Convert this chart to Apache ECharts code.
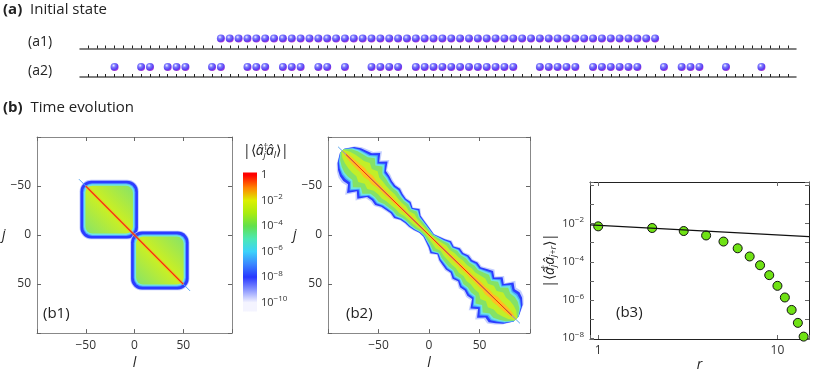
<!DOCTYPE html>
<html>
<head>
<meta charset="utf-8">
<title>Initial state and time evolution</title>
<script src="https://cdn.jsdelivr.net/npm/echarts@6.0.0/dist/echarts.min.js"></script>
<style>
  html, body { margin: 0; padding: 0; background: #fff; }
  #chart { width: 825px; height: 375px; }
</style>
</head>
<body>
<div id="chart"></div>
<script>
// (a) lattice sites and the occupied sites of the two initial states
const sites = Array.from({ length: 80 }, (_, i) => i)
const a1Sites = [15, 16, 17, 18, 19, 20, 21, 22, 23, 24, 25, 26, 27, 28, 29, 30, 31, 32, 33, 34,
  35, 36, 37, 38, 39, 40, 41, 42, 43, 44, 45, 46, 47, 48, 49, 50, 51, 52, 53, 54,
  55, 56, 57, 58, 59, 60, 61, 62, 63, 64]
const a2Sites = [3, 6, 7, 9, 10, 11, 14, 15, 18, 19, 20, 22, 23, 24, 26, 27, 29, 32, 33, 34,
  35, 37, 38, 39, 40, 41, 42, 43, 44, 45, 46, 47, 48, 51, 52, 53, 54, 55, 57, 58,
  59, 60, 61, 62, 65, 67, 68, 69, 72, 76]

// (b1) two correlated blocks [start, end] on the diagonal
const b1Blocks = [[-55.5, 3.5], [-3.5, 55.5]]
const b1Diag = [-57, 57]
const b1Red = [-50, 50]

// (b2) band along the diagonal: position t, half width above / below
const b2T = [-86, -82, -78, -74, -70, -66, -62, -58, -54, -50, -46, -42, -38, -34, -30, -26, -22, -18, -14, -10, -6, -2,
  2, 6, 10, 14, 18, 22, 26, 30, 34, 38, 42, 46, 50, 54, 58, 62, 66, 70, 74, 78, 82, 86]
const b2Up = [3, 11, 15, 17, 19, 25, 18, 24, 16, 15, 13, 12, 13, 11, 10, 11, 8, 12, 8, 7, 6, 5,
  4, 6, 8, 11, 9, 12, 11, 13, 12, 14, 13, 16, 19, 15, 21, 17, 25, 21, 22, 20, 15, 4]
const b2Low = [3, 12, 17, 20, 21, 20, 27, 19, 24, 16, 15, 16, 13, 12, 11, 12, 9, 8, 8, 7, 5, 5,
  7, 9, 12, 8, 11, 12, 13, 12, 15, 13, 16, 15, 17, 16, 24, 19, 26, 20, 21, 17, 12, 3]
const b2Diag = [-90, 90]
const b2Red = [-82, 82]

// colour bar (exponent of |<a+ a>|)
const cbarLevels = [0, -1, -2, -3, -4, -5, -6, -7, -8, -9, -10]
const cbarColors = ['#ff0000', '#ff8400', '#dcf000', '#a8ec10', '#62e04c', '#4ce8b4', '#3cd2fa',
  '#3a86ff', '#2838ff', '#8a96ff', '#f4f4ff']
const cbarTicks = [0, -2, -4, -6, -8, -10]
const cbarRange = [-10.7, 0.2]

// (b3) correlation against distance r, and the power law guide
const b3R = [1, 2, 3, 4, 5, 6, 7, 8, 9, 10, 11, 12, 13, 14]
const b3C = [7.2e-3, 5.9e-3, 4.1e-3, 2.4e-3, 1.15e-3, 5.1e-4, 1.9e-4, 6.6e-5, 2.0e-5, 5.5e-6,
  1.35e-6, 3.0e-7, 6.3e-8, 1.2e-8]
const fitR = [0.9, 15]
const fitC = [8.6e-3, 2.1e-3]

const F = '"Open Sans", "Noto Sans", sans-serif'
const MINUS = '\u2212'

const chart = echarts.init(document.getElementById('chart'))

const ball = {
  type: 'radial', x: 0.38, y: 0.32, r: 0.75,
  colorStops: [
    { offset: 0, color: '#f4f0ff' },
    { offset: 0.3, color: '#7c7cff' },
    { offset: 0.7, color: '#5a3cf0' },
    { offset: 1, color: '#c83cd0' }
  ]
}

const supRich = {
  sup: { fontSize: 8, padding: [0, 0, 7, 0], fontFamily: F, color: '#333' }
}
const mathRich = {
  i: { fontStyle: 'italic', fontSize: 14, fontFamily: F, color: '#222' },
  d: { fontSize: 9, padding: [0, 0, 9, 0], fontFamily: F, color: '#222', width: 0.01 },
  s: { fontStyle: 'italic', fontSize: 9, padding: [7, 0, 0, 0], fontFamily: F, color: '#222' }
}

const latLabel = v => (Math.abs(v) === 100 ? '' : String(v).replace('-', MINUS))
const expOf = v => Math.round(Math.log10(v))
const isPow = v => Math.abs(Math.log10(v) - expOf(v)) < 1e-6

// frame axis helper (lines on all four sides, ticks inside)
function frame(grid, pos, extra) {
  return Object.assign({
    gridIndex: grid, position: pos, type: 'value',
    axisLine: { show: true, onZero: false, lineStyle: { color: '#888', width: 1 } },
    axisTick: { show: true, inside: true, length: 4, lineStyle: { color: '#666' } },
    axisLabel: { show: false },
    splitLine: { show: false }
  }, extra)
}
const tickLabel = { show: true, formatter: latLabel, fontSize: 12, color: '#333', fontFamily: F, margin: 6 }
const nameStyle = { fontStyle: 'italic', fontSize: 14, color: '#222', fontFamily: F }

function lattice(grid) {
  return {
    gridIndex: grid, type: 'value', min: -0.9, max: 79.9,
    axisLine: { show: true, onZero: false, lineStyle: { color: '#555', width: 1.5 } },
    axisTick: { show: true, inside: true, length: 3, customValues: sites, lineStyle: { color: '#222' } },
    axisLabel: { show: false },
    splitLine: { show: false }
  }
}
const hiddenY = grid => ({ gridIndex: grid, type: 'value', min: 0, max: 2, show: false })

function blockItem(params, api) {
  const lo = api.value(0), hi = api.value(1)
  const a = api.coord([lo, lo]), b = api.coord([hi, hi])
  const x = a[0], y = a[1], w = b[0] - a[0], h = b[1] - a[1]
  const rr = (ins, r, fill) => ({
    type: 'rect',
    shape: { x: x + ins, y: y + ins, width: w - 2 * ins, height: h - 2 * ins, r: r },
    style: { fill: fill }
  })
  return {
    type: 'group',
    children: [
      rr(-0.8, 11.5, '#b9c4ff'),
      rr(0, 11, '#2c3cff'),
      rr(2.6, 9, '#4f9dff'),
      rr(3.6, 8, '#6fe6e6'),
      rr(5, 7, {
        type: 'linear', x: 1, y: 0, x2: 0, y2: 1,
        colorStops: [
          { offset: 0, color: '#86e36a' },
          { offset: 0.5, color: '#cdf020' },
          { offset: 1, color: '#86e36a' }
        ]
      })
    ]
  }
}

const bandLayers = [
  [1.1, 'rgba(170,185,255,0.7)'],
  [1.0, '#2c3cff'],
  [0.87, '#48a6ff'],
  [0.8, '#70e4e0'],
  [0.7, '#84e266'],
  [0.42, '#c2ef28'],
  [0.14, '#ffc020']
]
function bandItem(params, api) {
  if (params.dataIndex !== 0) return
  const n = b2T.length
  const poly = f => {
    const pts = []
    for (let i = 0; i < n; i++) {
      const t = b2T[i], d = b2Up[i] * f / Math.SQRT2
      pts.push(api.coord([t + d, t - d]))
    }
    for (let i = n - 1; i >= 0; i--) {
      const t = b2T[i], d = b2Low[i] * f / Math.SQRT2
      pts.push(api.coord([t - d, t + d]))
    }
    return pts
  }
  return {
    type: 'group',
    children: bandLayers.map(l => ({ type: 'polygon', shape: { points: poly(l[0]) }, style: { fill: l[1] } }))
  }
}

function cbarItem(params, api) {
  const top = api.value(2), bot = api.value(1)
  const p = api.coord([0, top]), q = api.coord([1, bot])
  return {
    type: 'rect',
    shape: { x: p[0], y: p[1], width: q[0] - p[0], height: q[1] - p[1] },
    style: {
      fill: {
        type: 'linear', x: 0, y: 0, x2: 0, y2: 1,
        colorStops: cbarLevels.map((lv, i) => ({ offset: (top - lv) / (top - bot), color: cbarColors[i] }))
      }
    }
  }
}

const diagLine = (xi, range, color, width, opacity) => ({
  type: 'line', xAxisIndex: xi, yAxisIndex: xi, symbol: 'none', silent: true,
  data: range.map(v => [v, v]),
  lineStyle: { color: color, width: width, opacity: opacity === undefined ? 1 : opacity }
})

const option = {
  animation: false,
  backgroundColor: '#fff',
  textStyle: { fontFamily: F },
  grid: [
    { left: 80, top: 28.5, width: 716, height: 20 },
    { left: 80, top: 57, width: 716, height: 20 },
    { left: 30, top: 137, width: 202, height: 202 },
    { left: 243, top: 172.5, width: 14, height: 139 },
    { left: 328, top: 137, width: 202, height: 202 },
    { left: 590, top: 182, width: 219, height: 157 }
  ],
  xAxis: [
    lattice(0),
    lattice(1),
    frame(2, 'bottom', { min: -100, max: 100, interval: 50, axisLabel: tickLabel, name: 'l', nameLocation: 'middle', nameGap: 19, nameTextStyle: nameStyle }),
    frame(2, 'top', { min: -100, max: 100, interval: 50 }),
    { gridIndex: 3, type: 'value', min: 0, max: 1, show: false },
    frame(4, 'bottom', { min: -100, max: 100, interval: 50, axisLabel: tickLabel, name: 'l', nameLocation: 'middle', nameGap: 19, nameTextStyle: nameStyle }),
    frame(4, 'top', { min: -100, max: 100, interval: 50 }),
    frame(5, 'bottom', {
      type: 'log', logBase: 10, min: 0.9, max: 15,
      axisLine: { show: true, onZero: false, lineStyle: { color: '#222', width: 1 } },
      axisLabel: { show: true, fontSize: 12, color: '#333', fontFamily: F, margin: 6, formatter: v => (isPow(v) ? String(Math.round(v)) : '') },
      name: 'r', nameLocation: 'middle', nameGap: 19, nameTextStyle: nameStyle
    }),
    frame(5, 'top', { type: 'log', logBase: 10, min: 0.9, max: 15, axisLine: { show: true, onZero: false, lineStyle: { color: '#222', width: 1 } } })
  ],
  yAxis: [
    hiddenY(0),
    hiddenY(1),
    frame(2, 'left', { inverse: true, min: -100, max: 100, interval: 50, axisLabel: tickLabel, name: 'j', nameLocation: 'middle', nameGap: 22, nameRotate: 0, nameTextStyle: nameStyle }),
    frame(2, 'right', { inverse: true, min: -100, max: 100, interval: 50 }),
    {
      gridIndex: 3, type: 'value', position: 'right', min: cbarRange[0], max: cbarRange[1],
      axisLine: { show: false },
      axisTick: { show: true, inside: false, length: 3, customValues: cbarTicks, lineStyle: { color: '#333' } },
      axisLabel: {
        show: true, customValues: cbarTicks, fontSize: 11, color: '#333', fontFamily: F, margin: 4,
        formatter: v => (v === 0 ? '1' : '10{sup|' + MINUS + (-v) + '}'), rich: supRich
      },
      splitLine: { show: false },
      name: '|\u27e8{i|\u00e2}{d|\u2020}{s|j}{i|\u00e2}{s|l}\u27e9|', nameLocation: 'end', nameGap: 12,
      nameTextStyle: { fontSize: 14, color: '#222', fontFamily: F, align: 'left', padding: [0, 0, 0, 0], rich: mathRich }
    },
    frame(4, 'left', { inverse: true, min: -100, max: 100, interval: 50, axisLabel: tickLabel, name: 'j', nameLocation: 'middle', nameGap: 22, nameRotate: 0, nameTextStyle: nameStyle }),
    frame(4, 'right', { inverse: true, min: -100, max: 100, interval: 50 }),
    frame(5, 'left', {
      type: 'log', logBase: 10, min: 9e-9, max: 1.52, splitNumber: 5,
      axisLine: { show: true, onZero: false, lineStyle: { color: '#222', width: 1 } },
      axisLabel: {
        show: true, fontSize: 11, color: '#333', fontFamily: F, margin: 6, rich: supRich,
        formatter: v => (isPow(v) && expOf(v) < 0 && expOf(v) % 2 === 0 ? '10{sup|' + MINUS + (-expOf(v)) + '}' : '')
      },
      name: '|\u27e8{i|\u00e2}{d|\u2020}{s|j}{i|\u00e2}{s|j+r}\u27e9|', nameLocation: 'middle', nameGap: 30, nameRotate: 90,
      nameTextStyle: { fontSize: 14, color: '#222', fontFamily: F, rich: mathRich }
    }),
    frame(5, 'right', { type: 'log', logBase: 10, min: 9e-9, max: 1.52, splitNumber: 5, axisLine: { show: true, onZero: false, lineStyle: { color: '#222', width: 1 } } })
  ],
  graphic: [
    { type: 'text', x: 3, y: 10, style: { text: '{b|(a)}  Initial state', fontSize: 15, fontFamily: F, fill: '#222', verticalAlign: 'middle', rich: { b: { fontWeight: 'bold', fontSize: 15, fontFamily: F } } } },
    { type: 'text', x: 3, y: 108, style: { text: '{b|(b)}  Time evolution', fontSize: 15, fontFamily: F, fill: '#222', verticalAlign: 'middle', rich: { b: { fontWeight: 'bold', fontSize: 15, fontFamily: F } } } },
    { type: 'text', x: 28, y: 42.5, style: { text: '(a1)', fontSize: 14, fontFamily: F, fill: '#222', verticalAlign: 'middle' } },
    { type: 'text', x: 28, y: 71.5, style: { text: '(a2)', fontSize: 14, fontFamily: F, fill: '#222', verticalAlign: 'middle' } },
    { type: 'text', x: 43, y: 314, style: { text: '(b1)', fontSize: 15, fontFamily: F, fill: '#222', verticalAlign: 'middle' } },
    { type: 'text', x: 346, y: 314, style: { text: '(b2)', fontSize: 15, fontFamily: F, fill: '#222', verticalAlign: 'middle' } },
    { type: 'text', x: 616, y: 313, style: { text: '(b3)', fontSize: 15, fontFamily: F, fill: '#222', verticalAlign: 'middle' } }
  ],
  series: [
    {
      type: 'scatter', xAxisIndex: 0, yAxisIndex: 0, silent: true,
      data: a1Sites.map(k => [k, 1]), symbolSize: 8, itemStyle: { color: ball, opacity: 1 }
    },
    {
      type: 'scatter', xAxisIndex: 1, yAxisIndex: 1, silent: true,
      data: a2Sites.map(k => [k, 1]), symbolSize: 8, itemStyle: { color: ball, opacity: 1 }
    },
    diagLine(2, b1Diag, '#5aa6f0', 1),
    {
      type: 'custom', xAxisIndex: 2, yAxisIndex: 2, silent: true,
      renderItem: blockItem, data: b1Blocks
    },
    diagLine(2, b1Red, '#ffa020', 3, 0.5),
    diagLine(2, b1Red, '#ff2200', 1.1),
    {
      type: 'custom', xAxisIndex: 4, yAxisIndex: 4, silent: true,
      renderItem: cbarItem, data: [[0, cbarRange[0], cbarRange[1]]]
    },
    diagLine(5, b2Diag, '#5aa6f0', 1),
    {
      type: 'custom', xAxisIndex: 5, yAxisIndex: 5, silent: true,
      renderItem: bandItem, data: b2T.map(t => [t, t])
    },
    diagLine(5, b2Red, '#ff2a00', 1),
    {
      type: 'line', xAxisIndex: 7, yAxisIndex: 7, symbol: 'none', silent: true,
      data: fitR.map((r, i) => [r, fitC[i]]), lineStyle: { color: '#111', width: 1.3 }
    },
    {
      type: 'scatter', xAxisIndex: 7, yAxisIndex: 7, silent: true,
      data: b3R.map((r, i) => [r, b3C[i]]), symbolSize: 9,
      itemStyle: { color: '#6fe214', borderColor: '#111', borderWidth: 1, opacity: 1 }
    }
  ]
}

chart.setOption(option)
</script>
</body>
</html>
